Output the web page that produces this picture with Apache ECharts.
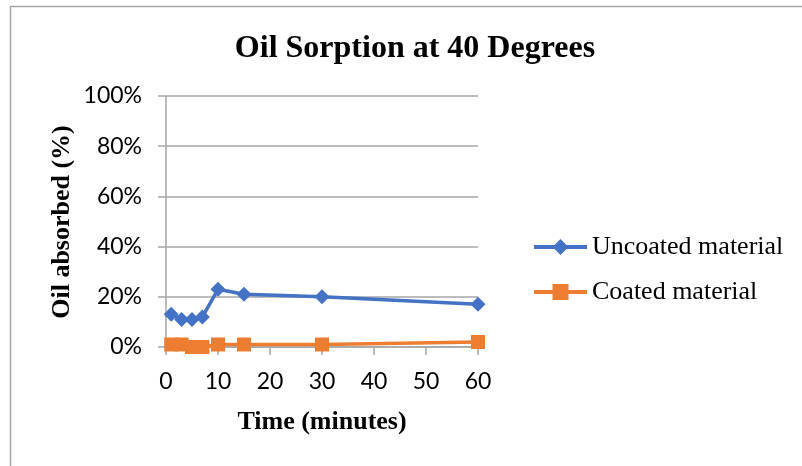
<!DOCTYPE html>
<html>
<head>
<meta charset="utf-8">
<script src="https://cdn.jsdelivr.net/npm/echarts@6/dist/echarts.min.js"></script>
<style>
html,body{margin:0;padding:0;background:#fff;}
#c{width:802px;height:466px;}
</style>
</head>
<body>
<div id="c"></div>
<script>
// Data
const times = [1, 3, 5, 7, 10, 15, 30, 60];
const uncoated = [13, 11, 11, 12, 23, 21, 20, 17];
const coated = [1, 1, 0, 0, 1, 1, 1, 2];
const seriesNames = ['Uncoated material', 'Coated material'];
const titleText = 'Oil Sorption at 40 Degrees';
const xTitle = 'Time (minutes)';
const yTitle = 'Oil absorbed (%)';

const pairs = (xs, ys) => xs.map((x, i) => [x, ys[i]]);

const chart = echarts.init(document.getElementById('c'), null, {renderer: 'canvas'});
const serif = 'Liberation Serif';
const sans = 'Lato';
chart.setOption({
  backgroundColor: '#ffffff',
  animation: false,
  title: {
    text: titleText,
    left: 410,
    top: 28,
    textAlign: 'center',
    textStyle: {fontFamily: serif, fontWeight: 'bold', fontSize: 32, color: '#000'}
  },
  graphic: [
    {
      type: 'rect', silent: true, z: -10,
      shape: {x: 10.5, y: 6.5, width: 900, height: 600},
      style: {fill: 'none', stroke: '#a6a6a6', lineWidth: 1.5}
    },
    {
      type: 'text', silent: true,
      x: 62, y: 222, rotation: Math.PI / 2,
      style: {text: yTitle, font: 'bold 26px "Liberation Serif"', fill: '#000', textAlign: 'center', textVerticalAlign: 'middle'}
    }
  ],
  legend: {
    orient: 'vertical',
    left: 527,
    top: 229,
    itemWidth: 53,
    itemHeight: 20,
    itemGap: 19,
    lineStyle: {width: 4},
    textStyle: {fontFamily: serif, fontSize: 26, color: '#000', lineHeight: 26},
    data: seriesNames
  },
  grid: {left: 166, right: 324, top: 96, bottom: 119},
  xAxis: {
    type: 'value', min: 0, max: 60, interval: 10,
    name: xTitle, nameLocation: 'middle', nameGap: 62,
    nameTextStyle: {fontFamily: serif, fontWeight: 'bold', fontSize: 26, color: '#000'},
    axisLine: {show: true, onZero: false, lineStyle: {color: '#a6a6a6', width: 1.5}},
    axisTick: {show: true, length: 8, lineStyle: {color: '#a6a6a6', width: 1.5}},
    axisLabel: {fontFamily: sans, fontSize: 23, color: '#000', margin: 23},
    splitLine: {show: false}
  },
  yAxis: {
    type: 'value', min: 0, max: 100, interval: 20,
    axisLine: {show: true, lineStyle: {color: '#a6a6a6', width: 1.5}},
    axisTick: {show: true, length: 8, lineStyle: {color: '#a6a6a6', width: 1.5}},
    axisLabel: {fontFamily: sans, fontSize: 23, color: '#000', margin: 24, formatter: '{value}%'},
    splitLine: {show: true, lineStyle: {color: '#a6a6a6', width: 1.5}}
  },
  series: [
    {
      name: seriesNames[0], type: 'line', data: pairs(times, uncoated),
      symbol: 'diamond', symbolSize: 15,
      lineStyle: {color: '#4472c4', width: 3.5},
      itemStyle: {color: '#4472c4'}
    },
    {
      name: seriesNames[1], type: 'line', data: pairs(times, coated),
      symbol: 'rect', symbolSize: 14,
      lineStyle: {color: '#ed7d31', width: 3.5},
      itemStyle: {color: '#ed7d31'}
    }
  ]
});
</script>
</body>
</html>
